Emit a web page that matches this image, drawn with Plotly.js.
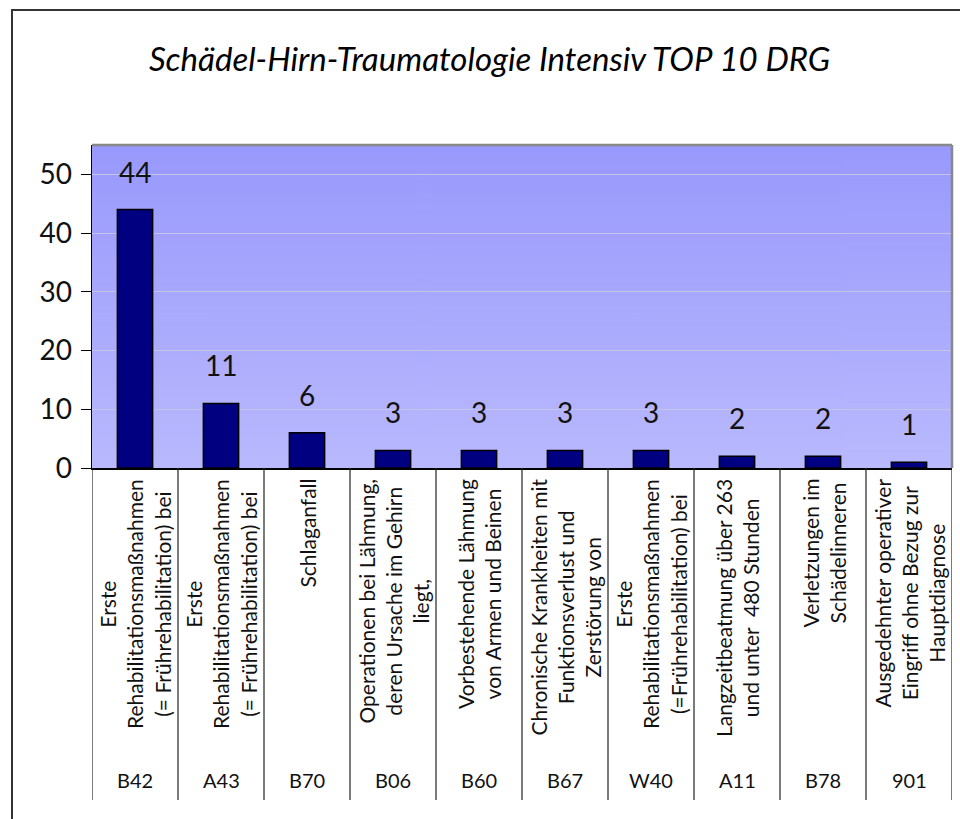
<!DOCTYPE html>
<html lang="de">
<head>
    <meta charset="UTF-8">
    <title>Schädel-Hirn-Traumatologie Intensiv TOP 10 DRG</title>
    <script src="https://cdn.plot.ly/plotly-3.0.1.min.js"></script>
    <style>
        body {
            margin: 0;
            padding: 0;
            overflow: hidden;
            background: #fff;
        }
        #grafik {
            position: absolute;
            left: 0;
            top: 0;
            width: 960px;
            height: 819px;
        }
        /* Rahmen um das ganze Diagramm (rechts und unten abgeschnitten) */
        #rahmen {
            position: absolute;
            left: 11px;
            top: 9px;
            width: 1000px;
            height: 900px;
            border: 2px solid #333;
            pointer-events: none;
        }
    </style>
</head>
<body>
    <div id="grafik"></div>
    <div id="rahmen"></div>

    <script>
        // DRG-Codes (untere Zeile der Achse)
        const drgCodes = ['B42', 'A43', 'B70', 'B06', 'B60', 'B67', 'W40', 'A11', 'B78', '901'];

        // Bezeichnungen (gedrehte Texte), Zeilen mit <br>
        const drgTexte = [
            'Erste<br>Rehabilitationsmaßnahmen<br>(= Frührehabilitation) bei',
            'Erste<br>Rehabilitationsmaßnahmen<br>(= Frührehabilitation) bei',
            'Schlaganfall',
            'Operationen bei Lähmung,<br>deren Ursache im Gehirn<br>liegt,',
            'Vorbestehende Lähmung<br>von Armen und Beinen',
            'Chronische Krankheiten mit<br>Funktionsverlust und<br>Zerstörung von',
            'Erste<br>Rehabilitationsmaßnahmen<br>(=Frührehabilitation) bei',
            'Langzeitbeatmung über 263<br>und unter  480 Stunden',
            'Verletzungen im<br>Schädelinneren',
            'Ausgedehnter operativer<br>Eingriff ohne Bezug zur<br>Hauptdiagnose'
        ];

        // Fallzahlen
        const anzahl = [44, 11, 6, 3, 3, 3, 3, 2, 2, 1];

        // Achse
        const yBereich = [0, 55];
        const yTicks = [0, 10, 20, 30, 40, 50];

        // Plotbereich in Pixel
        const rand = { l: 92, r: 8, t: 145, b: 351 };
        const plotHoehe = 819 - rand.t - rand.b;
        const nullLinie = 819 - rand.b;

        // Pixel unterhalb der Achse -> paper-Koordinate
        function papierY(px) {
            return (nullLinie - px) / plotHoehe;
        }

        // Farbverlauf für den Hintergrund des Plotbereichs
        function verlauf(oben, unten) {
            const c = document.createElement('canvas');
            c.width = 4;
            c.height = 256;
            const ctx = c.getContext('2d');
            const g = ctx.createLinearGradient(0, 0, 0, 256);
            g.addColorStop(0, oben);
            g.addColorStop(1, unten);
            ctx.fillStyle = g;
            ctx.fillRect(0, 0, 4, 256);
            return c.toDataURL();
        }

        const schrift = 'Lato, "Open Sans", sans-serif';

        const balken = {
            type: 'bar',
            x: drgCodes,
            y: anzahl,
            width: 0.41,
            marker: { color: '#000080', line: { color: '#000', width: 1.5 } },
            hoverinfo: 'x+y'
        };

        const anmerkungen = [];
        const linien = [];

        // x über den Index, sonst wird "901" als Zahl gelesen
        drgCodes.forEach((code, i) => {
            // Wert über dem Balken
            anmerkungen.push({
                x: i, y: anzahl[i], xref: 'x', yref: 'y',
                text: String(anzahl[i]), showarrow: false,
                yanchor: 'bottom', yshift: 19,
                font: { family: schrift, size: 28, color: '#111' }
            });
            // gedrehte Bezeichnung
            anmerkungen.push({
                x: i, y: papierY(477), xref: 'x', yref: 'paper',
                text: drgTexte[i], showarrow: false, textangle: -90,
                xanchor: 'center', yanchor: 'top', align: 'center',
                font: { family: schrift, size: 21, color: '#111' }
            });
            // Code
            anmerkungen.push({
                x: i, y: papierY(780), xref: 'x', yref: 'paper',
                text: code, showarrow: false,
                xanchor: 'center', yanchor: 'middle',
                font: { family: schrift, size: 20, color: '#111' }
            });
        });

        // Trennlinien zwischen den Kategorien
        for (let i = 0; i <= drgCodes.length; i++) {
            linien.push({
                type: 'line', xref: 'x', yref: 'paper',
                x0: i - 0.5, x1: i - 0.5, y0: 0, y1: papierY(800),
                line: { color: '#222', width: 1.2 }
            });
        }
        // grauer Rand oben und rechts
        linien.push({
            type: 'line', xref: 'paper', yref: 'paper',
            x0: 0, x1: 1, y0: 1, y1: 1,
            line: { color: '#888', width: 2.5 }
        });
        linien.push({
            type: 'line', xref: 'paper', yref: 'paper',
            x0: 1, x1: 1, y0: 0, y1: 1,
            line: { color: '#888', width: 2.5 }
        });

        const layout = {
            width: 960,
            height: 819,
            margin: rand,
            paper_bgcolor: '#fff',
            plot_bgcolor: 'rgba(0,0,0,0)',
            showlegend: false,
            title: {
                text: '<i>Schädel-Hirn-Traumatologie Intensiv TOP 10 DRG</i>',
                font: { family: schrift, size: 33, color: '#000' },
                xref: 'container', x: 0.51, xanchor: 'center',
                yref: 'container', y: 1 - 59 / 819, yanchor: 'middle'
            },
            xaxis: {
                type: 'category',
                range: [-0.5, drgCodes.length - 0.5],
                showticklabels: false,
                showgrid: false,
                zeroline: false,
                showline: true,
                linecolor: '#000',
                linewidth: 1.5,
                ticks: ''
            },
            yaxis: {
                range: yBereich,
                tickvals: yTicks,
                ticks: 'outside',
                ticklen: 10,
                tickcolor: '#000',
                ticklabelstandoff: 3,
                tickfont: { family: schrift, size: 28, color: '#111' },
                showline: true,
                linecolor: '#000',
                linewidth: 1.5,
                showgrid: true,
                gridcolor: '#c4c4e6',
                gridwidth: 1,
                zeroline: false
            },
            images: [{
                source: verlauf('#9999fd', '#b9b9fe'),
                xref: 'paper', yref: 'paper',
                x: 0, y: 1, sizex: 1, sizey: 1,
                xanchor: 'left', yanchor: 'top',
                sizing: 'stretch', layer: 'below'
            }],
            annotations: anmerkungen,
            shapes: linien
        };

        Plotly.newPlot('grafik', [balken], layout, { staticPlot: true });
    </script>
</body>
</html>
